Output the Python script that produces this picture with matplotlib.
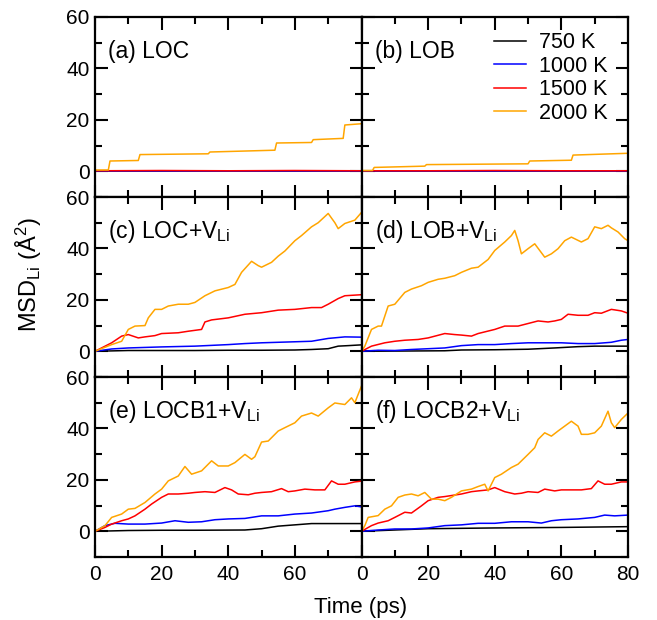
import matplotlib
matplotlib.use("Agg")
import matplotlib.pyplot as plt
from matplotlib.ticker import MultipleLocator

plt.rcParams['font.family'] = ['Liberation Sans', 'DejaVu Sans']
plt.rcParams['mathtext.fontset'] = 'custom'
plt.rcParams['mathtext.rm'] = 'Liberation Sans'
plt.rcParams['mathtext.it'] = 'Liberation Sans:italic'

temps = ['750 K', '1000 K', '1500 K', '2000 K']
colors = ['#000000', '#0000FF', '#FF0000', '#FFA500']
panel_labels = ['(a) LOC', '(b) LOB', '(c) LOC+V$_\\mathrm{Li}$', '(d) LOB+V$_\\mathrm{Li}$',
                '(e) LOCB1+V$_\\mathrm{Li}$', '(f) LOCB2+V$_\\mathrm{Li}$']
x_ticks = [0, 20, 40, 60, 80]
y_ticks = [0, 20, 40, 60]

# ---- panel (a) LOC ----
a_t_750 = [0, 80]
a_750 = [0.0, 0.0]
a_t_1000 = [0, 80]
a_1000 = [0.05, 0.05]
a_t_1500 = [0, 20, 40, 60, 80]
a_1500 = [0.2, 0.3, 0.2, 0.3, 0.2]
a_t_2000 = [0, 4, 4.5, 13, 13.5, 34, 34.5, 54, 54.5, 65, 65.5, 74.5, 75, 80]
a_2000 = [0.5, 0.5, 4.0, 4.2, 6.5, 6.8, 7.5, 8.2, 11.0, 11.2, 12.3, 12.8, 18.0, 18.5]

# ---- panel (b) LOB ----
b_t_750 = [0, 80]
b_750 = [0.0, 0.0]
b_t_1000 = [0, 80]
b_1000 = [0.05, 0.05]
b_t_1500 = [0, 20, 40, 60, 80]
b_1500 = [0.2, 0.2, 0.3, 0.2, 0.2]
b_t_2000 = [0, 3.3, 3.8, 19, 19.5, 50, 50.5, 63, 63.5, 80]
b_2000 = [0.3, 0.3, 1.5, 2.0, 2.6, 2.9, 4.0, 4.3, 6.3, 7.0]

# ---- panel (c) LOC+VLi ----
c_t_750 = [0, 10, 20, 30, 40, 50, 60, 65, 70, 73, 76, 80]
c_750 = [0, 0.3, 0.3, 0.3, 0.4, 0.4, 0.5, 0.7, 1.0, 2.0, 2.2, 2.5]
c_t_1000 = [0, 5, 10, 20, 30, 40, 45, 50, 60, 65, 70, 75, 80]
c_1000 = [0, 0.9, 1.3, 1.7, 2.0, 2.6, 3.0, 3.3, 3.7, 3.9, 5.0, 5.6, 5.5]
c_t_1500 = [0, 5, 8, 10, 13, 15, 18, 20, 25, 28, 32, 33, 35, 40, 45, 50, 55, 60, 65, 68, 70, 73, 75, 80]
c_1500 = [0, 3.3, 5.9, 6.5, 5.2, 5.6, 6.1, 6.9, 7.2, 7.8, 8.5, 11.4, 12.2, 13.0, 14.4, 15.0,
          16.0, 16.3, 17.0, 17.0, 18.3, 20.5, 21.6, 22.0]
c_t_2000 = [0, 5, 8, 10, 12, 15, 16, 18, 20, 22, 25, 28, 30, 33, 36, 40, 42, 44, 47, 49, 50,
            53, 55, 57, 60, 62, 65, 67, 70, 72, 73, 75, 78, 80]
c_2000 = [0, 2.6, 3.9, 8.5, 9.8, 10.0, 13.0, 16.3, 16.3, 17.6, 18.3, 18.3, 19.0, 21.6, 23.5,
          24.8, 26.0, 30.7, 35.0, 33.3, 32.7, 34.6, 37.0, 39.0, 43.0, 45.0, 48.4, 50.0, 53.6,
          50.0, 47.7, 49.7, 51.0, 54.0]

# ---- panel (d) LOB+VLi ----
d_t_750 = [0, 25, 30, 40, 50, 58, 65, 70, 80]
d_750 = [0, 0.2, 0.5, 0.6, 0.8, 1.3, 1.8, 2.0, 2.0]
d_t_1000 = [0, 5, 10, 15, 20, 25, 30, 35, 40, 45, 50, 55, 60, 65, 70, 75, 78, 80]
d_1000 = [0, 0.4, 0.3, 0.7, 1.0, 1.3, 2.2, 2.6, 2.6, 3.0, 3.3, 3.3, 3.3, 3.0, 3.0, 3.5, 4.3, 4.6]
d_t_1500 = [0, 3, 7, 10, 13, 17, 20, 25, 28, 30, 33, 35, 40, 43, 47, 50, 53, 56, 58, 60, 62,
            65, 68, 70, 72, 75, 78, 80]
d_1500 = [0, 2.0, 3.3, 3.9, 4.3, 4.6, 5.2, 6.9, 6.5, 6.3, 5.9, 6.9, 8.5, 9.8, 9.8, 10.8, 11.8,
          11.4, 11.8, 12.4, 14.4, 14.0, 14.0, 15.0, 14.8, 16.3, 15.7, 14.8]
d_t_2000 = [0, 1, 3, 5, 6, 8, 10, 13, 15, 18, 20, 23, 25, 28, 30, 33, 35, 38, 40, 43, 45, 46,
            47, 48, 50, 52, 55, 57, 59, 61, 63, 66, 68, 70, 72, 74, 75, 77, 79, 80]
d_2000 = [0, 2.0, 8.5, 9.8, 9.8, 17.6, 18.3, 22.9, 24.2, 25.5, 26.8, 28.0, 28.4, 29.4, 30.7,
          32.3, 32.7, 35.7, 39.2, 42.5, 45.0, 47.0, 43.0, 37.9, 39.9, 41.8, 36.6, 37.9, 39.9,
          43.0, 44.4, 42.5, 43.8, 48.4, 47.7, 49.0, 48.0, 46.4, 43.8, 43.0]

# ---- panel (e) LOCB1+VLi ----
e_t_750 = [0, 10, 20, 30, 45, 50, 55, 60, 65, 70, 80]
e_750 = [0, 0.3, 0.4, 0.4, 0.5, 1.0, 2.0, 2.5, 3.0, 3.0, 3.0]
e_t_1000 = [0, 3, 6, 10, 15, 20, 24, 28, 32, 36, 40, 45, 50, 55, 60, 65, 70, 72, 75, 78, 80]
e_1000 = [0, 2.2, 3.1, 2.8, 2.8, 3.2, 4.1, 3.5, 3.7, 4.5, 4.8, 5.0, 6.0, 6.0, 6.7, 7.1, 8.0,
          8.6, 9.3, 9.9, 9.5]
e_t_1500 = [0, 3, 5, 8, 10, 12, 15, 17, 20, 22, 25, 28, 30, 33, 36, 39, 41, 43, 46, 48, 50,
            53, 56, 58, 60, 63, 66, 69, 71, 73, 75, 78, 80]
e_1500 = [0, 1.5, 2.8, 4.1, 4.8, 6.0, 8.6, 10.6, 13.2, 14.5, 14.5, 14.8, 15.1, 15.4, 15.1,
          17.0, 16.1, 14.5, 14.2, 14.8, 15.1, 15.4, 16.6, 15.4, 15.7, 16.4, 16.1, 16.1, 19.6,
          18.3, 18.3, 19.2, 19.5]
e_t_2000 = [0, 3, 5, 8, 10, 12, 15, 18, 20, 22, 25, 27, 29, 32, 35, 37, 40, 42, 45, 47, 48,
            50, 52, 55, 57, 60, 62, 65, 67, 70, 72, 75, 77, 78, 80]
e_2000 = [0, 2.2, 5.4, 6.7, 8.6, 8.9, 11.2, 14.5, 16.4, 19.6, 21.5, 25.2, 22.2, 23.5, 27.4,
          25.4, 25.4, 26.7, 29.9, 28.0, 29.0, 34.7, 35.1, 39.0, 40.3, 42.2, 44.8, 46.0, 44.8,
          48.0, 49.9, 49.3, 51.9, 50.0, 56.5]

# ---- panel (f) LOCB2+VLi ----
f_t_750 = [0, 10, 20, 40, 60, 80]
f_750 = [0, 0.5, 1.0, 1.3, 1.5, 1.8]
f_t_1000 = [0, 3, 5, 10, 15, 20, 25, 30, 35, 40, 45, 50, 54, 57, 60, 65, 70, 73, 76, 80]
f_1000 = [0, 0.3, 0.5, 0.9, 0.9, 1.3, 2.2, 2.5, 3.1, 3.1, 3.7, 3.7, 3.2, 4.1, 4.5, 4.8, 5.4,
          6.3, 6.0, 6.3]
f_t_1500 = [0, 3, 5, 8, 10, 13, 15, 18, 20, 23, 25, 28, 30, 33, 35, 38, 40, 43, 46, 48, 50,
            53, 55, 58, 60, 63, 66, 69, 71, 73, 75, 78, 80]
f_1500 = [0, 2.2, 3.2, 4.1, 5.4, 7.4, 7.1, 9.9, 11.9, 13.2, 13.5, 14.1, 14.5, 15.4, 15.7, 16.1,
          17.0, 15.4, 14.5, 14.8, 15.4, 15.1, 16.4, 15.7, 16.1, 16.1, 16.1, 16.6, 19.6, 18.3,
          18.3, 19.2, 19.2]
f_t_2000 = [0, 1, 2, 5, 7, 9, 11, 13, 15, 17, 19, 21, 23, 25, 27, 30, 33, 35, 37, 38, 40, 42,
            45, 47, 50, 52, 53, 55, 57, 59, 61, 63, 65, 66, 68, 70, 72, 74, 75, 76, 78, 80]
f_2000 = [0, 2.2, 5.4, 6.1, 8.6, 9.9, 13.2, 14.1, 14.5, 13.8, 15.1, 12.5, 12.5, 11.9, 13.2,
          15.7, 16.4, 17.4, 18.3, 15.7, 20.9, 22.2, 24.8, 26.1, 29.9, 32.5, 35.7, 38.3, 37.0,
          39.0, 40.9, 42.8, 40.9, 37.7, 37.7, 38.3, 40.9, 46.7, 42.2, 40.3, 43.5, 46.0]

panels = [
    [(a_t_750, a_750), (a_t_1000, a_1000), (a_t_1500, a_1500), (a_t_2000, a_2000)],
    [(b_t_750, b_750), (b_t_1000, b_1000), (b_t_1500, b_1500), (b_t_2000, b_2000)],
    [(c_t_750, c_750), (c_t_1000, c_1000), (c_t_1500, c_1500), (c_t_2000, c_2000)],
    [(d_t_750, d_750), (d_t_1000, d_1000), (d_t_1500, d_1500), (d_t_2000, d_2000)],
    [(e_t_750, e_750), (e_t_1000, e_1000), (e_t_1500, e_1500), (e_t_2000, e_2000)],
    [(f_t_750, f_750), (f_t_1000, f_1000), (f_t_1500, f_1500), (f_t_2000, f_2000)],
]

fig = plt.figure(figsize=(6.57, 6.2), dpi=100)
left, right, top, bottom = 95 / 657, 628 / 657, 1 - 17 / 620, 1 - 557 / 620
gs = fig.add_gridspec(3, 2, left=left, right=right, top=top, bottom=bottom, wspace=0, hspace=0)

for i in range(6):
    r, c = divmod(i, 2)
    ax = fig.add_subplot(gs[r, c])
    for (t, y), col, lab in zip(panels[i], colors, temps):
        ax.plot(t, y, color=col, lw=1.1, label=lab)
    ax.set_xlim(0, 80)
    ax.set_ylim(-10, 60)
    ax.set_xticks(x_ticks)
    ax.set_yticks(y_ticks)
    ax.xaxis.set_minor_locator(MultipleLocator(10))
    ax.yaxis.set_minor_locator(MultipleLocator(10))
    ax.tick_params(which='both', direction='in', top=True, right=True, width=1.5,
                   labelsize=15)
    ax.tick_params(which='major', length=9)
    ax.tick_params(which='minor', length=5)
    ax.tick_params(axis='x', pad=6)
    ax.tick_params(axis='y', pad=4)
    for s in ax.spines.values():
        s.set_linewidth(1.6)
    if c == 1:
        ax.set_yticklabels([])
    if r < 2:
        ax.set_xticklabels([])
    elif c == 0:
        ax.set_xticklabels(['0', '20', '40', '60', ''])
    ax.text(0.05, 0.81, panel_labels[i], transform=ax.transAxes, ha='left', va='center',
            fontsize=16.5)
    if i == 1:
        ax.legend(loc='upper left', bbox_to_anchor=(0.44, 1.0), frameon=False, fontsize=15.5,
                  handlelength=1.5, handletextpad=0.6, labelspacing=0.12, borderaxespad=0.3)

fig.text(361 / 657, 1 - 607 / 620, 'Time (ps)', ha='center', va='center', fontsize=16)
fig.text(29 / 657, 1 - 274 / 620, 'MSD$_\\mathrm{Li}$ (Å$^\\mathrm{2}$)', ha='center',
         va='center', rotation=90, fontsize=17)

fig.savefig('out.png', dpi=100)
